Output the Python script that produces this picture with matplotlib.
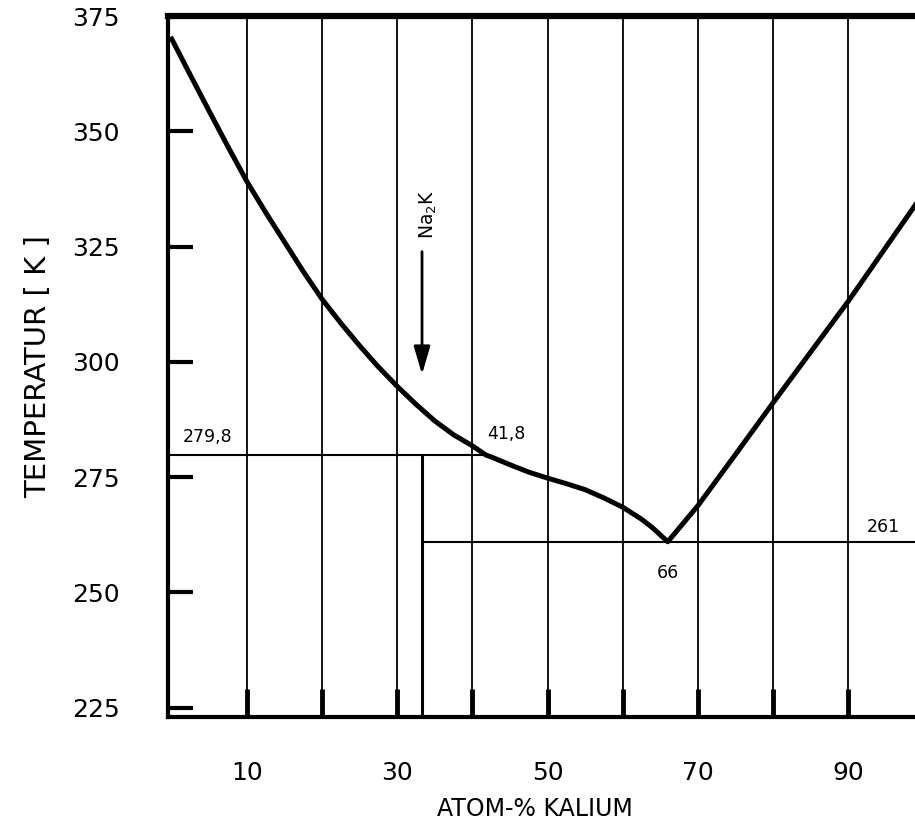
#!/usr/bin/env python3
"""Na-K phase diagram (Schmelzdiagramm Natrium-Kalium)."""

import matplotlib

matplotlib.use('Agg')
import matplotlib.pyplot as plt

# liquidus (atom-% K, temperature in K)
liq_x = [0, 2.5, 5, 7.5, 10, 12.5, 15, 17.5, 20, 22.5, 25, 27.5, 30, 32.5,
         35, 37.5, 40, 41.8, 42.5, 45, 47.5, 50, 52.5, 55, 57.5, 60, 62.5,
         64, 66,
         70, 75, 80, 85, 90, 95, 100]
liq_t = [370, 362.1, 354.3, 346.6, 339.1, 332.4, 326.0, 319.6, 313.6, 308.4,
         303.5, 298.9, 294.7, 290.8, 287.2, 284.2, 281.8, 279.8, 279.4, 277.7,
         276.1, 274.8, 273.6, 272.3, 270.5, 268.5, 265.9, 264.0, 261,
         268.8, 279.9, 291.1, 302.1, 313.1, 324.8, 336.5]

peritectic_t = 279.8
peritectic_x = 41.8
eutectic_t = 261
eutectic_x = 66
na2k_x = 33.3

grid_x = [10, 20, 30, 40, 50, 60, 70, 80, 90]
xtick_labels = ['10', '', '30', '', '50', '', '70', '', '90']
yticks = [225, 250, 275, 300, 325, 350, 375]

W, H = 915, 830
fig = plt.figure(figsize=(W / 100, H / 100), dpi=100)
ax = fig.add_axes([168 / W, (H - 717) / H, (W - 168) / W, (717 - 16) / H])
plt.rcParams['font.family'] = ['DejaVu Sans']

ax.set_xlim(-0.5, 98.9)
ax.set_ylim(223, 374.5)

for gx in grid_x:
    ax.axvline(gx, color='black', lw=1.3, zorder=1)

# horizontal invariant lines and Na2K line
ax.plot([-0.5, peritectic_x], [peritectic_t, peritectic_t], color='black', lw=1.5)
ax.plot([na2k_x, 100], [eutectic_t, eutectic_t], color='black', lw=1.5)
ax.plot([na2k_x, na2k_x], [peritectic_t, 223], color='black', lw=2.2)

ax.plot(liq_x, liq_t, color='black', lw=3.6, solid_joinstyle='round',
        zorder=3)

ax.annotate('', xy=(na2k_x, 297.3), xytext=(na2k_x, 323.9),
            arrowprops=dict(arrowstyle='-|>,head_length=0.85,head_width=0.25',
                            mutation_scale=20, lw=2, color='black',
                            shrinkA=0, shrinkB=0))
ax.text(34.1, 332, 'Na$_2$K', rotation=90, ha='center', va='center',
        fontsize=13.5)

ax.text(4.7, 283.7, '279,8', ha='center', va='center', fontsize=12.5)
ax.text(42, 284.4, '41,8', ha='left', va='center', fontsize=12.5)
ax.text(94.7, 264.1, '261', ha='center', va='center', fontsize=12.5)
ax.text(eutectic_x, 254.3, '66', ha='center', va='center', fontsize=12.5)

ax.set_xticks(grid_x)
ax.set_xticklabels(xtick_labels)
ax.set_yticks(yticks)
ax.tick_params(axis='x', direction='in', length=20, width=3.5, pad=32,
               labelsize=18)
ax.tick_params(axis='y', direction='in', length=18, width=3, pad=35,
               labelsize=18)

ax.spines['right'].set_visible(False)
ax.spines['top'].set_linewidth(4.5)
ax.spines['left'].set_linewidth(3)
ax.spines['bottom'].set_linewidth(3)

ax.set_ylabel('TEMPERATUR [ K ]', fontsize=21)
ax.yaxis.set_label_coords(-0.155, 0.5)
ax.set_xlabel('ATOM-% KALIUM', fontsize=17)
ax.xaxis.set_label_coords(0.491, -0.114)

fig.savefig('out.png', dpi=100)
